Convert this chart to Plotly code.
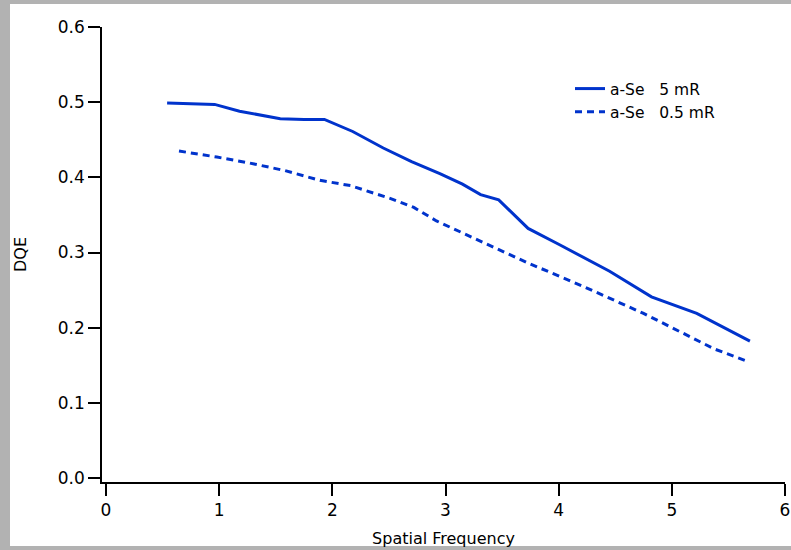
import plotly.graph_objects as go

# Data
freq_5mR = [0.54, 0.75, 0.96, 1.18, 1.54, 1.75, 1.93, 2.18, 2.45, 2.7, 2.95, 3.15, 3.31, 3.47, 3.73, 4.0, 4.45, 4.82, 5.22, 5.69]
dqe_5mR = [0.499, 0.498, 0.497, 0.488, 0.478, 0.477, 0.477, 0.461, 0.439, 0.421, 0.405, 0.391, 0.377, 0.370, 0.332, 0.311, 0.275, 0.241, 0.219, 0.182]

freq_05mR = [0.645, 0.98, 1.27, 1.58, 1.89, 2.16, 2.51, 2.72, 2.92, 3.15, 3.42, 3.73, 4.2, 4.75, 5.16, 5.37, 5.67]
dqe_05mR = [0.435, 0.427, 0.419, 0.409, 0.396, 0.389, 0.372, 0.360, 0.342, 0.326, 0.307, 0.286, 0.256, 0.219, 0.188, 0.172, 0.155]

series_names = ["a-Se\u00a0\u00a0\u00a05\u00a0mR", "a-Se\u00a0\u00a0\u00a00.5\u00a0mR"]
x_ticks = [0, 1, 2, 3, 4, 5, 6]
y_ticks = [0.0, 0.1, 0.2, 0.3, 0.4, 0.5, 0.6]

W, H = 791, 550
ML, MR, MT, MB = 102, 6, 27, 68
PW, PH = W - ML - MR, H - MT - MB

def px_to_paper_x(px):
    return (px - ML) / PW

def px_to_paper_y(py):
    return (H - MB - py) / PH

blue = "rgb(0,51,204)"
font = "DejaVu Sans"

fig = go.Figure()
fig.add_trace(go.Scatter(x=freq_5mR, y=dqe_5mR, mode="lines", name=series_names[0],
                         line=dict(color=blue, width=3)))
fig.add_trace(go.Scatter(x=freq_05mR, y=dqe_05mR, mode="lines", name=series_names[1],
                         line=dict(color=blue, width=3, dash="7px,5px")))

# white page area within gray border
fig.add_shape(type="rect", xref="paper", yref="paper",
              x0=px_to_paper_x(10), x1=px_to_paper_x(W + 5),
              y0=px_to_paper_y(546), y1=px_to_paper_y(4),
              fillcolor="white", line=dict(width=0), layer="below")

xmin = -6 * 4 / (PW - 4)
ymin = 0.6 - 0.6 * PH / (PH - 4)

fig.update_layout(
    width=W, height=H,
    margin=dict(l=ML, r=MR, t=MT, b=MB, pad=0),
    paper_bgcolor="rgb(178,178,178)",
    plot_bgcolor="white",
    font=dict(family=font, size=17, color="black"),
    showlegend=True,
    legend=dict(x=px_to_paper_x(570), y=px_to_paper_y(72), xanchor="left", yanchor="top",
                bgcolor="rgba(0,0,0,0)", borderwidth=0, font=dict(size=15.5),
                tracegroupgap=0),
    xaxis=dict(range=[xmin, 6], tickvals=x_ticks, ticktext=[str(v) for v in x_ticks],
               automargin=False,
               showgrid=False, zeroline=False, showline=True, linecolor="black", linewidth=1.5,
               ticks="outside", ticklen=12, tickwidth=1.5, tickcolor="black",
               tickfont=dict(size=17),
               title=dict(text="Spatial Frequency", standoff=14, font=dict(size=16))),
    yaxis=dict(range=[ymin, 0.6], tickvals=y_ticks, ticktext=["%.1f" % v for v in y_ticks],
               automargin=False,
               showgrid=False, zeroline=False, showline=True, linecolor="black", linewidth=1.5,
               ticks="outside", ticklen=12, tickwidth=1.5, tickcolor="black",
               tickfont=dict(size=17),
               title=dict(text="DQE", standoff=27, font=dict(size=16))),
)

fig.write_html("out.html", config={"displayModeBar": False},
               post_script="document.body.style.margin='0';document.body.style.overflow='hidden';")
